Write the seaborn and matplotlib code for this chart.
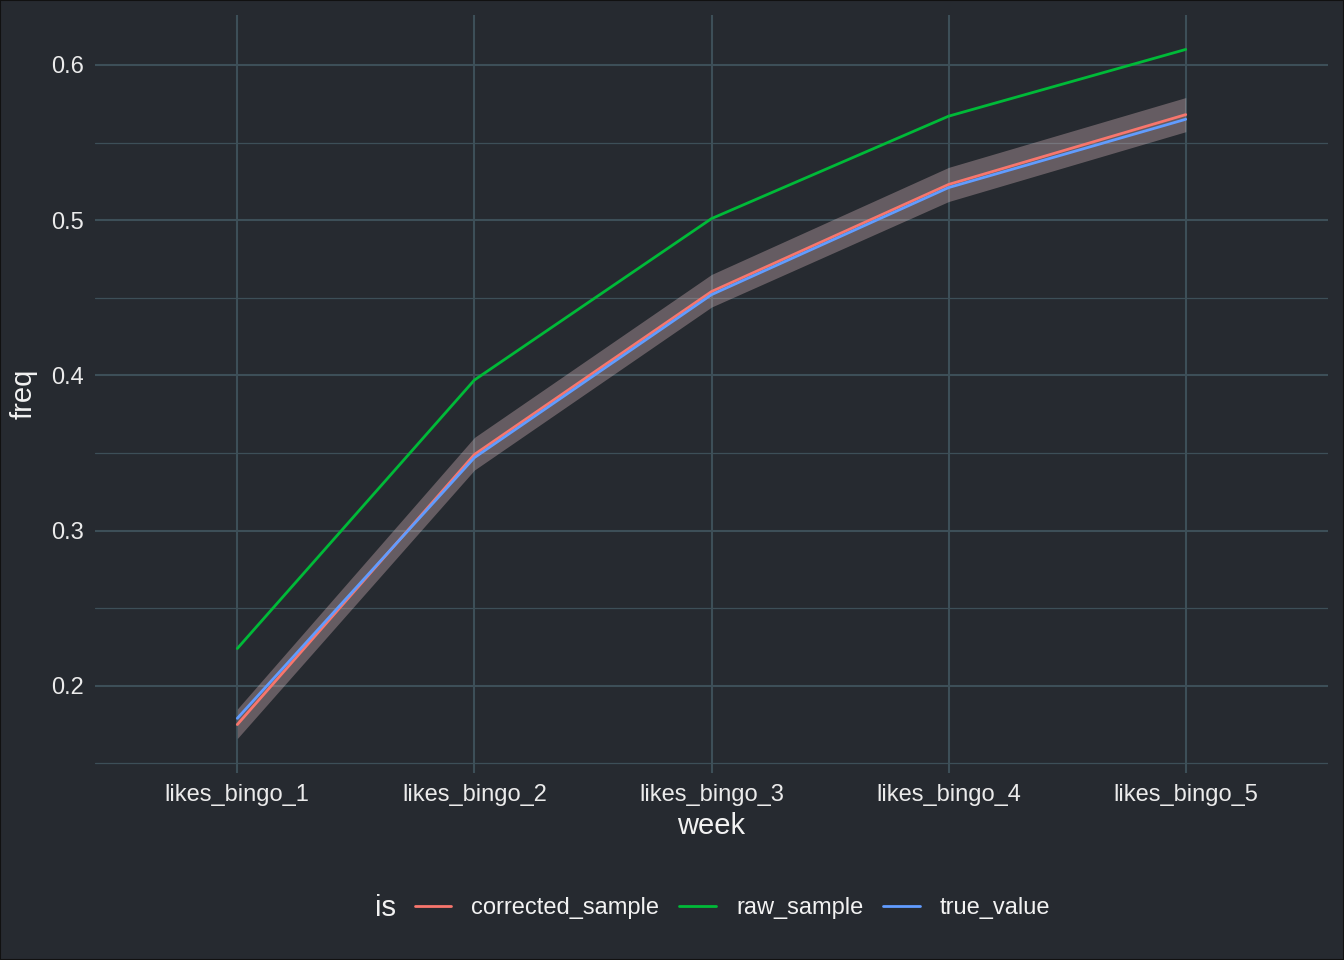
import pandas as pd
import matplotlib.pyplot as plt
import seaborn as sns

# values
weeks = ["likes_bingo_1", "likes_bingo_2", "likes_bingo_3", "likes_bingo_4", "likes_bingo_5"]
raw_sample = [0.224, 0.397, 0.501, 0.567, 0.610]
corrected_sample = [0.175, 0.349, 0.454, 0.523, 0.568]
true_value = [0.179, 0.347, 0.452, 0.521, 0.565]
corrected_lower = [0.166, 0.339, 0.444, 0.512, 0.557]
corrected_upper = [0.185, 0.360, 0.465, 0.534, 0.579]

series = {"corrected_sample": corrected_sample, "raw_sample": raw_sample, "true_value": true_value}
df = pd.concat([pd.DataFrame({"week": weeks, "freq": v, "is": k}) for k, v in series.items()])

bg = "#262a30"
grid = "#3d4f58"
txt = "#f2f2f2"
palette = {"corrected_sample": "#F8766D", "raw_sample": "#00BA38", "true_value": "#619CFF"}

sns.set_theme(style="dark")
plt.rcParams["font.family"] = ["Liberation Sans", "DejaVu Sans"]

fig = plt.figure(figsize=(13.44, 9.6), dpi=100, facecolor=bg)
ax = fig.add_axes([0.0707, 0.1948, 0.9174, 0.7896])
ax.set_facecolor(bg)

# confidence ribbon around corrected sample
ax.fill_between(weeks, corrected_lower, corrected_upper, color="#e8c4c8", alpha=0.33, linewidth=0, zorder=1)

sns.lineplot(data=df, x="week", y="freq", hue="is", palette=palette, linewidth=2.0, ax=ax, zorder=3)

ax.set_xlim(-0.6, 4.6)
ax.set_ylim(0.1438, 0.6322)
ax.set_yticks([0.2, 0.3, 0.4, 0.5, 0.6])
ax.set_yticklabels(["0.2", "0.3", "0.4", "0.5", "0.6"])
ax.set_yticks([0.15, 0.25, 0.35, 0.45, 0.55], minor=True)
ax.grid(True, which="major", color=grid, linewidth=1.5)
ax.grid(True, which="minor", axis="y", color=grid, linewidth=0.9)
ax.set_axisbelow(True)
for s in ax.spines.values():
    s.set_visible(False)
ax.tick_params(axis="both", which="both", length=0, colors="#ebebeb", labelsize=17)
ax.tick_params(axis="x", pad=8)
ax.tick_params(axis="y", pad=8)
ax.set_xlabel("week", color=txt, fontsize=21, labelpad=4)
ax.set_ylabel("freq", color=txt, fontsize=21, labelpad=10)

handles, labels = ax.get_legend_handles_labels()
ax.get_legend().remove()
leg = fig.legend(handles, labels, loc="center", bbox_to_anchor=(0.545, 0.054), ncol=3, frameon=False,
                 fontsize=17, handlelength=1.55, handletextpad=0.85, columnspacing=0.85)
for t in leg.get_texts():
    t.set_color(txt)
for h in leg.get_lines():
    h.set_linewidth(2.0)
fig.text(0.2865, 0.054, "is", color=txt, fontsize=21, ha="center", va="center")

fig.patches.append(plt.Rectangle((0, 0), 1, 1, transform=fig.transFigure, fill=False,
                                 edgecolor="#111111", linewidth=1.5))

fig.savefig("out.png", dpi=100, facecolor=bg)
